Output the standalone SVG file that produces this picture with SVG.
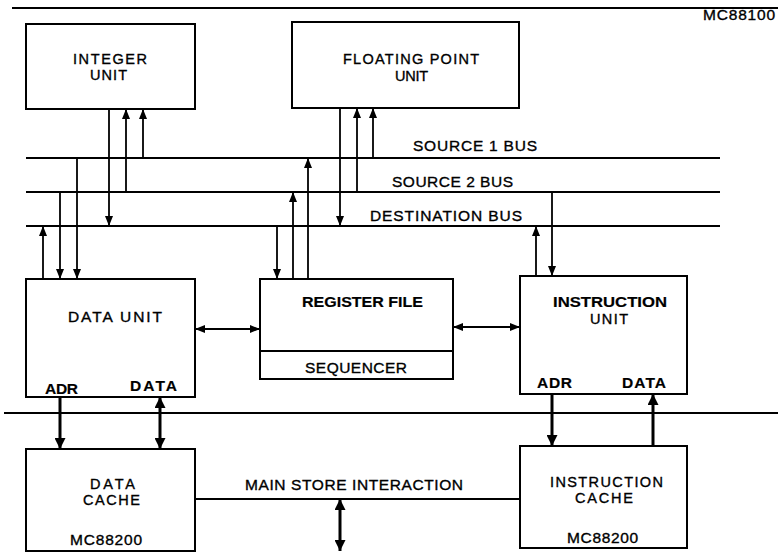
<svg xmlns="http://www.w3.org/2000/svg" width="778" height="552" viewBox="0 0 778 552">
<style>
.box{fill:#fff;stroke:#000;stroke-width:2}
.ln{fill:none;stroke:#000;stroke-width:1.8}
.th{fill:none;stroke:#000;stroke-width:3}
.t{font-family:"Liberation Sans",Arial,Helvetica,sans-serif;font-size:15.5px;fill:#000;stroke:#000;stroke-width:0.35}
.s{font-size:14.5px}
.b{font-weight:bold;stroke-width:0.2}
</style>
<defs>
<marker id="a" markerUnits="userSpaceOnUse" viewBox="0 0 10 8" refX="10" refY="4" markerWidth="10" markerHeight="8" orient="auto-start-reverse"><path d="M0,0 L10,4 L0,8 z" fill="#000"/></marker>
<marker id="ab" markerUnits="userSpaceOnUse" viewBox="0 0 10 10" refX="10" refY="5" markerWidth="11" markerHeight="11" orient="auto-start-reverse"><path d="M0,0 L10,5 L0,10 z" fill="#000"/></marker>
</defs>
<rect width="778" height="552" fill="#fff"/>
<g id="connectors">
<path class="ln" d="M12,8 H778"/>
<path class="ln" d="M4,413 H778"/>
<path class="ln" d="M26,158 H720"/>
<path class="ln" d="M26,192 H720"/>
<path class="ln" d="M26,226 H720"/>
<path class="ln" d="M109,109 V226" marker-end="url(#a)"/>
<path class="ln" d="M126,192 V109" marker-end="url(#a)"/>
<path class="ln" d="M143,158 V109" marker-end="url(#a)"/>
<path class="ln" d="M43,279 V226" marker-end="url(#a)"/>
<path class="ln" d="M60,192 V279" marker-end="url(#a)"/>
<path class="ln" d="M77,158 V279" marker-end="url(#a)"/>
<path class="ln" d="M340,108 V226" marker-end="url(#a)"/>
<path class="ln" d="M357,192 V108" marker-end="url(#a)"/>
<path class="ln" d="M373,158 V108" marker-end="url(#a)"/>
<path class="ln" d="M277,226 V279" marker-end="url(#a)"/>
<path class="ln" d="M293,279 V192" marker-end="url(#a)"/>
<path class="ln" d="M308,279 V158" marker-end="url(#a)"/>
<path class="ln" d="M536,276 V226" marker-end="url(#a)"/>
<path class="ln" d="M552,192 V276" marker-end="url(#a)"/>
<path class="ln" d="M195,329 H260" marker-start="url(#a)" marker-end="url(#a)"/>
<path class="ln" d="M453,327 H520" marker-start="url(#a)" marker-end="url(#a)"/>
<path class="th" d="M60,397 V449" marker-end="url(#ab)"/>
<path class="th" d="M160,397 V449" marker-start="url(#ab)" marker-end="url(#ab)"/>
<path class="th" d="M552,394 V446" marker-end="url(#ab)"/>
<path class="th" d="M653,446 V394" marker-end="url(#ab)"/>
<path class="ln" d="M195,499 H520"/>
<path class="th" d="M340,499 V551" marker-start="url(#ab)" marker-end="url(#ab)"/>
<text class="t" x="413" y="151" textLength="124" lengthAdjust="spacing">SOURCE 1 BUS</text>
<text class="t" x="392" y="187" textLength="121" lengthAdjust="spacing">SOURCE 2 BUS</text>
<text class="t" x="370" y="221" textLength="152" lengthAdjust="spacing">DESTINATION BUS</text>
<text class="t" x="245" y="490" textLength="218" lengthAdjust="spacing">MAIN STORE INTERACTION</text>
<text class="t" x="703" y="20" textLength="72" lengthAdjust="spacing">MC88100</text>
</g>
<g id="integer-unit">
<rect class="box" x="26" y="24" width="169" height="85"/>
<text class="t s" x="73" y="64" textLength="74" lengthAdjust="spacing">INTEGER</text>
<text class="t s" x="90" y="80" textLength="37" lengthAdjust="spacing">UNIT</text>
</g>
<g id="floating-point-unit">
<rect class="box" x="292" y="22" width="227" height="86"/>
<text class="t s" x="343" y="64" textLength="136" lengthAdjust="spacing">FLOATING POINT</text>
<text class="t s" x="395" y="81" textLength="33" lengthAdjust="spacing">UNIT</text>
</g>
<g id="data-unit">
<rect class="box" x="26" y="279" width="169" height="118"/>
<text class="t" x="68" y="322" textLength="94" lengthAdjust="spacing">DATA UNIT</text>
<text class="t b" x="45" y="394" textLength="33" lengthAdjust="spacing">ADR</text>
<text class="t b" x="130" y="391" textLength="47" lengthAdjust="spacing">DATA</text>
</g>
<g id="register-file">
<rect class="box" x="260" y="279" width="193" height="100"/>
<path class="ln" d="M260,351 H453"/>
<text class="t b" x="302" y="307" textLength="121" lengthAdjust="spacingAndGlyphs">REGISTER FILE</text>
<text class="t" x="305" y="373" textLength="102" lengthAdjust="spacing">SEQUENCER</text>
</g>
<g id="instruction-unit">
<rect class="box" x="520" y="276" width="167" height="118"/>
<text class="t b" x="553" y="307" textLength="114" lengthAdjust="spacingAndGlyphs">INSTRUCTION</text>
<text class="t s" x="590" y="324" textLength="38" lengthAdjust="spacing">UNIT</text>
<text class="t b" x="537" y="388" textLength="35" lengthAdjust="spacing">ADR</text>
<text class="t b" x="622" y="388" textLength="44" lengthAdjust="spacing">DATA</text>
</g>
<g id="data-cache">
<rect class="box" x="26" y="449" width="169" height="102"/>
<text class="t s" x="90" y="489" textLength="45" lengthAdjust="spacing">DATA</text>
<text class="t s" x="83" y="505" textLength="57" lengthAdjust="spacing">CACHE</text>
<text class="t" x="70" y="545" textLength="72" lengthAdjust="spacing">MC88200</text>
</g>
<g id="instruction-cache">
<rect class="box" x="520" y="446" width="167" height="102"/>
<text class="t s" x="550" y="487" textLength="113" lengthAdjust="spacing">INSTRUCTION</text>
<text class="t s" x="575" y="503" textLength="58" lengthAdjust="spacing">CACHE</text>
<text class="t" x="567" y="543" textLength="71" lengthAdjust="spacing">MC88200</text>
</g>
</svg>
